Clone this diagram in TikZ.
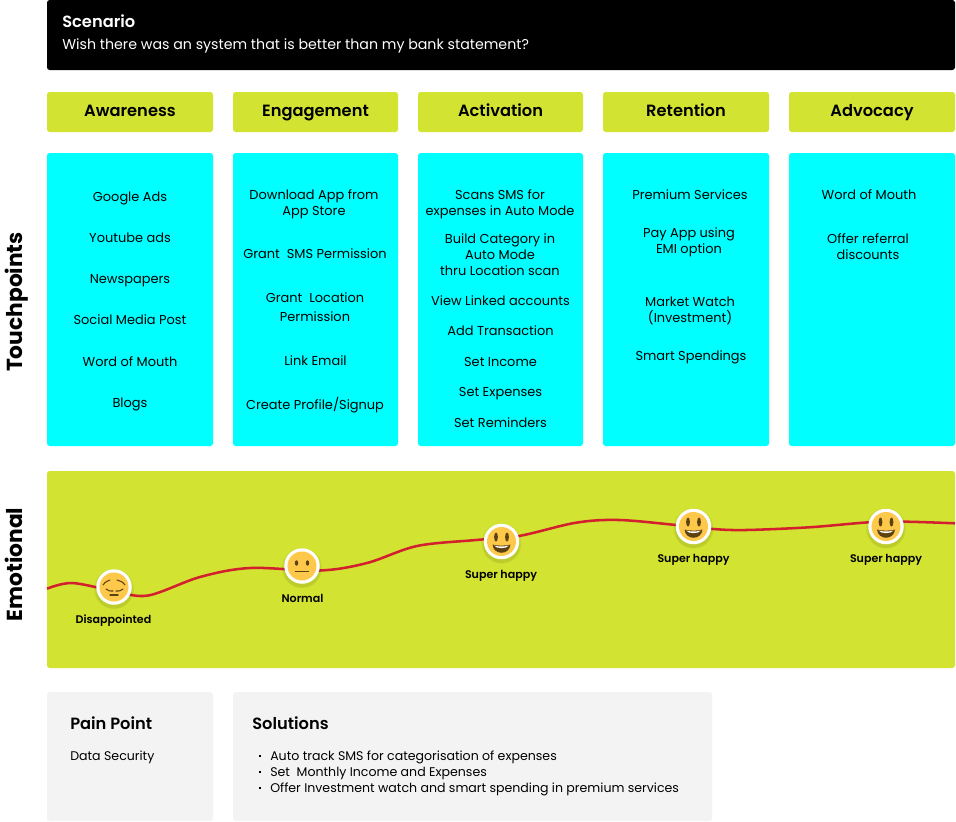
\documentclass[tikz,border=0pt]{standalone}
\usepackage{fontspec}
\setmainfont{Poppins}
\newfontfamily\semi{Poppins SemiBold}
\newfontfamily\medi{Poppins Medium}
\definecolor{lime}{HTML}{D2E331}
\definecolor{cyanbox}{HTML}{00FFFF}
\definecolor{greybox}{HTML}{F3F3F3}
\definecolor{curve}{HTML}{D2202F}
\definecolor{facefill}{HTML}{FEC84B}
\definecolor{facedark}{HTML}{5C4210}
\tikzset{
 x=0.75pt,y=-0.75pt,
 card/.style={rounded corners=2pt},
 phase/.style={font=\fontsize{12.2}{15}\selectfont\semi,text=black,anchor=base,inner sep=0pt,yshift=-4pt},
 item/.style={font=\fontsize{9.7}{12}\selectfont,align=center,text=black,inner sep=0pt,yshift=-0.7pt},
 one/.style={item,anchor=base,yshift=-2.7pt},
 rowlabel/.style={font=\fontsize{16.3}{19}\selectfont\bfseries,rotate=90,text=black,anchor=base,inner sep=0pt},
 emolabel/.style={font=\fontsize{8.3}{10}\selectfont\semi,text=black,anchor=base,inner sep=0pt,yshift=-2.9pt},
 head/.style={font=\fontsize{12.2}{15}\selectfont\semi,text=black,anchor=base west,inner sep=0pt,yshift=-4.1pt},
 facering/.style={circle,fill=white,minimum size=35.5*0.75pt,inner sep=0pt},
 shade1/.style={fill=black,opacity=0.05},
 sol/.style={font=\fontsize{9.43}{12}\selectfont,text=black,anchor=base west,inner sep=0pt,yshift=-3.2pt},
}
\newcommand{\baseface}[3]{%
 \fill[shade1] (#1,#2+2) circle[radius=20];
 \fill[shade1] (#1,#2+3) circle[radius=18.5];
 \node[facering] (#3) at (#1,#2) {};
 \fill[facefill] (#1,#2) circle[radius=14.5];}
\newcommand{\happy}[3]{\baseface{#1}{#2}{#3}
 \fill[facedark] (#1-5.5,#2-4.5) ellipse[x radius=1.9,y radius=4.5];
 \fill[facedark] (#1+5.5,#2-4.5) ellipse[x radius=1.9,y radius=4.5];
 \fill[facedark] (#1-9,#2+3) .. controls (#1-4,#2+4.5) and (#1+4,#2+4.5) .. (#1+9,#2+3) .. controls (#1+8,#2+14) and (#1-8,#2+14) .. cycle;
 \fill[white] (#1-7.5,#2+4) .. controls (#1-3,#2+5.3) and (#1+3,#2+5.3) .. (#1+7.5,#2+4) .. controls (#1+5,#2+7.5) and (#1-5,#2+7.5) .. cycle;}
\begin{document}
\begin{tikzpicture}
\useasboundingbox (0,0) rectangle (956,821);
% scenario
\fill[black,card] (47,0) rectangle (955,70);
\node[font=\fontsize{12.2}{15}\selectfont\semi,text=white,anchor=base west,inner sep=0pt,yshift=-4.1pt] (scn) at (62,22) {Scenario};
\node[font=\fontsize{10.65}{14}\selectfont,text=white,anchor=base west,inner sep=0pt,yshift=-3.3pt] (scnt) at (62,45) {Wish there was an system that is better than my bank statement?};
% phases
\foreach \a/\b/\n/\t in {47/213/p1/Awareness,233/398/p2/Engagement,418/583/p3/Activation,603/769/p4/Retention,789/955/p5/Advocacy}{
 \fill[lime,card] (\a,92) rectangle (\b,132);
 \node[phase] (\n) at ({(\a+\b)/2},111) {\t};
 \fill[cyanbox,card] (\a,153) rectangle (\b,446);
}
% row labels
\node[rowlabel] (rt) at (22.5,302) {Touchpoints};
\node[rowlabel] (re) at (22.5,564.5) {Emotional};
% awareness
\node[one] (a1) at (130,197) {Google Ads};
\node[one] (a2) at (130,238) {Youtube ads};
\node[one] (a3) at (130,279) {Newspapers};
\node[one] (a4) at (130,320) {Social Media Post};
\node[one] (a5) at (130,361.5) {Word of Mouth};
\node[one] (a6) at (130,403) {Blogs};
% engagement
\node[item] (e1) at (314,203) {Download App from\\App Store};
\node[one] (e2) at (315,254) {Grant\ \ SMS Permission};
\node[one] (e3) at (315,298) {Grant\ \ Location};
\node[one] (e3b) at (315,317) {Permission};
\node[one] (e4) at (315.5,361) {Link Email};
\node[one] (e5) at (315,405) {Create Profile/Signup};
% activation
\node[item] (c1) at (500,203) {Scans SMS for\\expenses in Auto Mode};
\node[item] (c2) at (500,254) {Build Category in\\Auto Mode\\thru Location scan};
\node[one] (c3) at (500.5,301) {View Linked accounts};
\node[one] (c4) at (500.5,331) {Add Transaction};
\node[one] (c5) at (500.5,362) {Set Income};
\node[one] (c6) at (500.5,392) {Set Expenses};
\node[one] (c7) at (500.5,423) {Set Reminders};
% retention
\node[one] (r1) at (690,195) {Premium Services};
\node[item] (r2) at (689,241.5) {Pay App using\\EMI option};
\node[item] (r3) at (690,309.5) {Market Watch\\(Investment)};
\node[one] (r4) at (691,356) {Smart Spendings};
% advocacy
\node[one] (v1) at (869,195) {Word of Mouth};
\node[item] (v2) at (868,246) {Offer referral\\discounts};
% emotional
\fill[lime,card] (47,471) rectangle (955,668);
\draw[curve,line width=1.9pt] plot[smooth,tension=0.55] coordinates {(47,588.7) (72,583) (114,591) (148,595.5) (200,577) (250,568) (320,570.5) (367,563) (417,546) (476,540) (519,536) (576,522.7) (619,520) (676,525) (713,529) (746,530) (809,527.3) (869,522.3) (906,521.7) (955,523.3)};
% sad face
\baseface{114}{587}{f1}
\draw[facedark,line width=0.8pt,line cap=round] (103,585) .. controls (105,582) and (108,580.5) .. (110,580);
\draw[facedark,line width=0.8pt,line cap=round] (125,585) .. controls (123,582) and (120,580.5) .. (117,580);
\draw[facedark,line width=0.8pt,line cap=round] (106,589) .. controls (108,591) and (111,591.5) .. (113,591);
\draw[facedark,line width=0.8pt,line cap=round] (123,589) .. controls (121,591) and (118,591.5) .. (116,591);
\draw[facedark,line width=0.8pt,line cap=round] (110,595) -- (118,595);
% neutral face
\baseface{302}{566}{f2}
\fill[facedark] (296.5,563) ellipse[x radius=1.7,y radius=2.7];
\fill[facedark] (307.5,563) ellipse[x radius=1.7,y radius=2.7];
\draw[facedark,line width=0.8pt] (295,571.5) -- (309,571.5);
\happy{501.5}{541.5}{f3}
\happy{693.5}{526.5}{f4}
\happy{886}{526.5}{f5}
\node[emolabel] (l1) at (113.5,620) {Disappointed};
\node[emolabel] (l2) at (302.5,598.5) {Normal};
\node[emolabel] (l3) at (501,574.5) {Super happy};
\node[emolabel] (l4) at (693.5,559) {Super happy};
\node[emolabel] (l5) at (886,559) {Super happy};
% bottom
\fill[greybox,card] (47,692) rectangle (213,821);
\fill[greybox,card] (233,692) rectangle (712,821);
\node[head] (pp) at (70,724) {Pain Point};
\node[sol] (pd) at (70,756) {Data Security};
\node[head] (so) at (252,724) {Solutions};
\node[sol] (s1) at (270,756) {Auto track SMS for categorisation of expenses};
\node[sol] (s2) at (270,772) {Set\ \ Monthly Income and Expenses};
\node[sol] (s3) at (270,788) {Offer Investment watch and smart spending in premium services};
\foreach \y in {756,772,788}{\fill[black] (258.5,\y-1.2) rectangle (261,\y+1.3);}
\end{tikzpicture}
\end{document}
